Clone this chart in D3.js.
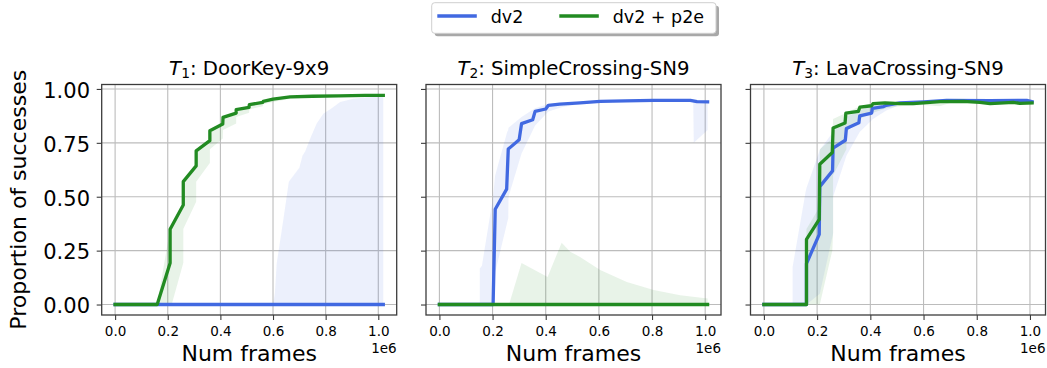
<!DOCTYPE html>
<html><head><meta charset="utf-8">
<script src="https://cdn.jsdelivr.net/npm/d3@7"></script>
<style>
body{margin:0;background:#fff}
svg{display:block}
text{font-family:"DejaVu Sans",sans-serif;fill:#000}
</style>
</head><body><svg id="c" width="1047" height="368"></svg>
<script>
// ---------- data ----------
const seriesNames = ["dv2", "dv2 + p2e"];
const seriesColors = ["#4169e1", "#228b22"];
const panelTitles = ["DoorKey-9x9", "SimpleCrossing-SN9", "LavaCrossing-SN9"];
const panelSubs = ["1", "2", "3"];
const yTicks = [0, 0.25, 0.5, 0.75, 1.0];
const yTickLabels = ["0.00", "0.25", "0.50", "0.75", "1.00"];
const xTicks = [0, 200000, 400000, 600000, 800000, 1000000];
const xTickLabels = ["0.0", "0.2", "0.4", "0.6", "0.8", "1.0"];

// Panel 1: DoorKey-9x9
const dkDv2X = [0, 1019000];
const dkDv2Y = [0, 0];
const dkDv2BandX = [600000, 607000, 614000, 640000, 660000, 700000, 712000, 722000, 745000, 766000, 791000, 823000, 855000, 905000, 960000, 1019000];
const dkDv2Lo = [0, 0, 0, 0, 0, 0, 0, 0, 0, 0, 0, 0, 0, 0, 0, 0];
const dkDv2Hi = [0, 0.05, 0.19, 0.40, 0.57, 0.635, 0.69, 0.71, 0.78, 0.84, 0.885, 0.91, 0.94, 0.955, 0.962, 0.965];
const dkP2eX = [0, 160000, 209000, 209000, 259000, 259000, 308000, 308000, 360000, 360000, 409000, 410000, 460000, 460000, 509000, 510000, 561000, 563000, 600000, 665000, 750000, 850000, 950000, 1019000];
const dkP2eY = [0, 0, 0.193, 0.349, 0.462, 0.570, 0.643, 0.713, 0.76, 0.806, 0.837, 0.868, 0.888, 0.904, 0.915, 0.927, 0.938, 0.942, 0.953, 0.963, 0.966, 0.968, 0.970, 0.970];
const dkP2eBandX = [160000, 209000, 215000, 259000, 259000, 308000, 308000, 360000, 360000, 409000, 410000, 460000, 460000, 509000, 510000, 561000, 563000, 600000, 665000, 750000, 850000, 1019000];
const dkP2eHi = [0, 0.35, 0.36, 0.47, 0.575, 0.65, 0.72, 0.765, 0.81, 0.84, 0.87, 0.89, 0.905, 0.917, 0.928, 0.94, 0.944, 0.955, 0.965, 0.968, 0.970, 0.972];
const dkP2eLo = [0, 0, 0, 0.193, 0.35, 0.477, 0.57, 0.656, 0.72, 0.77, 0.81, 0.84, 0.87, 0.89, 0.905, 0.92, 0.93, 0.94, 0.955, 0.962, 0.966, 0.968];

// Panel 2: SimpleCrossing-SN9
const scDv2X = [0, 202000, 210000, 253000, 259000, 300000, 309000, 351000, 360000, 400000, 410000, 453000, 529000, 605000, 700000, 806000, 944000, 969000, 1009000];
const scDv2Y = [0, 0, 0.442, 0.535, 0.721, 0.764, 0.839, 0.857, 0.896, 0.907, 0.924, 0.930, 0.935, 0.942, 0.945, 0.947, 0.947, 0.941, 0.940];
const scDv2BandX = [152000, 152000, 160000, 202000, 209000, 210000, 255000, 259000, 260000, 309000, 360000, 410000, 460000, 529000, 605000, 806000, 944000, 955000, 957000, 1009000];
const scDv2Hi = [0, 0.167, 0.18, 0.5, 0.593, 0.6, 0.80, 0.81, 0.82, 0.87, 0.91, 0.93, 0.935, 0.94, 0.945, 0.95, 0.95, 0.95, 0.95, 0.945];
const scDv2Lo = [0, 0, 0, 0, 0, 0.15, 0.38, 0.40, 0.50, 0.70, 0.83, 0.895, 0.915, 0.93, 0.938, 0.944, 0.944, 0.944, 0.75, 0.81];
const scP2eX = [0, 1009000];
const scP2eY = [0, 0];
const scP2eBandX = [262000, 309000, 407000, 460000, 492000, 529000, 605000, 705000, 806000, 906000, 1009000];
const scP2eHi = [0, 0.193, 0.128, 0.287, 0.245, 0.221, 0.160, 0.105, 0.067, 0.043, 0.028];
const scP2eLo = [0, 0, 0, 0, 0, 0, 0, 0, 0, 0, 0];

// Panel 3: LavaCrossing-SN9
const lcDv2X = [0, 160000, 160000, 208000, 210000, 258000, 260000, 306000, 310000, 357000, 360000, 405000, 408000, 450000, 460000, 511000, 600000, 687000, 850000, 988000, 1008000];
const lcDv2Y = [0, 0, 0.19, 0.325, 0.547, 0.62, 0.725, 0.762, 0.817, 0.843, 0.875, 0.888, 0.91, 0.918, 0.924, 0.935, 0.94, 0.947, 0.946, 0.947, 0.941];
const lcDv2BandX = [108000, 108000, 157000, 160000, 210000, 260000, 260000, 310000, 360000, 410000, 460000, 510000, 600000, 700000, 1008000];
const lcDv2Hi = [0, 0.175, 0.524, 0.54, 0.717, 0.80, 0.80, 0.87, 0.90, 0.925, 0.935, 0.94, 0.945, 0.95, 0.95];
const lcDv2Lo = [0, 0, 0, 0, 0.05, 0.33, 0.50, 0.69, 0.80, 0.86, 0.90, 0.925, 0.935, 0.94, 0.94];
const lcP2eX = [0, 160000, 160000, 208000, 210000, 257000, 260000, 305000, 308000, 355000, 361000, 405000, 410000, 455000, 511000, 561000, 662000, 750000, 812000, 850000, 937000, 962000, 1008000];
const lcP2eY = [0, 0, 0.302, 0.395, 0.651, 0.705, 0.819, 0.842, 0.888, 0.896, 0.916, 0.922, 0.932, 0.935, 0.932, 0.932, 0.941, 0.942, 0.938, 0.932, 0.938, 0.933, 0.935];
const lcP2eBandX = [160000, 160000, 208000, 210000, 257000, 260000, 260000, 310000, 310000, 360000, 410000, 460000, 510000, 600000, 660000, 700000, 1008000];
const lcP2eHi = [0, 0.35, 0.45, 0.72, 0.77, 0.86, 0.86, 0.89, 0.89, 0.92, 0.935, 0.94, 0.942, 0.945, 0.945, 0.945, 0.945];
const lcP2eLo = [0, 0, 0, 0, 0.25, 0.33, 0.60, 0.72, 0.80, 0.86, 0.89, 0.91, 0.92, 0.925, 0.92, 0.935, 0.93];

// ---------- assemble ----------
const panelData = [
  [[dkDv2X, dkDv2Y, dkDv2BandX, dkDv2Lo, dkDv2Hi], [dkP2eX, dkP2eY, dkP2eBandX, dkP2eLo, dkP2eHi]],
  [[scDv2X, scDv2Y, scDv2BandX, scDv2Lo, scDv2Hi], [scP2eX, scP2eY, scP2eBandX, scP2eLo, scP2eHi]],
  [[lcDv2X, lcDv2Y, lcDv2BandX, lcDv2Lo, lcDv2Hi], [lcP2eX, lcP2eY, lcP2eBandX, lcP2eLo, lcP2eHi]]
];

// ---------- layout ----------
const panelLefts = [101.7, 426, 750.5];
const panelW = 295, axTop = 84.5, axBottom = 315;
const spineColor = "#3c3c3c";
const gridColor = "#bcbcbc";

const svg = d3.select("#c");

// shared y domain with 5% margins (matplotlib-style)
let yMax = 0, yMin = 0;
panelData.forEach(p => p.forEach(s => {
  yMax = Math.max(yMax, d3.max(s[1]), d3.max(s[4]));
  yMin = Math.min(yMin, d3.min(s[1]), d3.min(s[3]));
}));
const yPad = (yMax - yMin) * 0.05;
const y = d3.scaleLinear().domain([yMin - yPad, yMax + yPad]).range([axBottom, axTop]);

panelData.forEach((pdata, pi) => {
  const left = panelLefts[pi], right = left + panelW;
  const xMax = d3.max(pdata, s => Math.max(d3.max(s[0]), d3.max(s[2])));
  const x = d3.scaleLinear().domain([-0.05 * xMax, 1.05 * xMax]).range([left, right]);
  const g = svg.append("g");

  // grid
  g.selectAll(".gx").data(xTicks).enter().append("line")
    .attr("x1", d => x(d)).attr("x2", d => x(d)).attr("y1", axTop).attr("y2", axBottom)
    .attr("stroke", gridColor).attr("stroke-width", 1.1);
  g.selectAll(".gy").data(yTicks).enter().append("line")
    .attr("x1", left).attr("x2", right).attr("y1", d => y(d)).attr("y2", d => y(d))
    .attr("stroke", gridColor).attr("stroke-width", 1.1);

  // bands and lines
  pdata.forEach((s, si) => {
    const band = s[2].map((bx, i) => ({x: bx, lo: s[3][i], hi: s[4][i]}));
    g.append("path").datum(band)
      .attr("d", d3.area().x(d => x(d.x)).y0(d => y(d.lo)).y1(d => y(d.hi)))
      .attr("fill", seriesColors[si]).attr("fill-opacity", 0.1).attr("stroke", "none");
  });
  pdata.forEach((s, si) => {
    const pts = s[0].map((mx, i) => ({x: mx, y: s[1][i]}));
    g.append("path").datum(pts)
      .attr("d", d3.line().x(d => x(d.x)).y(d => y(d.y)))
      .attr("fill", "none").attr("stroke", seriesColors[si]).attr("stroke-width", 3.3)
      .attr("stroke-linejoin", "round").attr("stroke-linecap", "square");
  });

  // spines
  g.append("rect").attr("x", left).attr("y", axTop).attr("width", panelW).attr("height", axBottom - axTop)
    .attr("fill", "none").attr("stroke", spineColor).attr("stroke-width", 1.3);

  // x axis
  const xAxis = d3.axisBottom(x).tickValues(xTicks).tickFormat((d, i) => xTickLabels[i]).tickSize(5).tickPadding(3);
  const gx = g.append("g").attr("transform", `translate(0,${axBottom})`).call(xAxis);
  gx.select(".domain").remove();
  gx.selectAll(".tick line").attr("stroke", spineColor).attr("stroke-width", 1.1);
  gx.selectAll(".tick text").attr("font-family", "DejaVu Sans").attr("font-size", 13.5).attr("fill", "#000")
    .attr("dy", null).attr("y", 20.8);

  // y axis
  const yAxis = d3.axisLeft(y).tickValues(yTicks).tickFormat((d, i) => pi === 0 ? yTickLabels[i] : "").tickSize(5).tickPadding(6);
  const gy = g.append("g").attr("transform", `translate(${left},0)`).call(yAxis);
  gy.select(".domain").remove();
  gy.selectAll(".tick line").attr("stroke", spineColor).attr("stroke-width", 1.1);
  gy.selectAll(".tick text").attr("font-family", "DejaVu Sans").attr("font-size", 21).attr("fill", "#000")
    .attr("dy", null).attr("y", 8.3).attr("x", -11.7);

  // x label
  g.append("text").attr("x", (left + right) / 2).attr("y", 361.3).attr("text-anchor", "middle")
    .attr("font-size", 22).text("Num frames");
  // offset text
  g.append("text").attr("x", right).attr("y", 353).attr("text-anchor", "end")
    .attr("font-size", 13.5).text("1e6");

  // title
  const t = g.append("text").attr("x", (left + right) / 2).attr("y", 75).attr("text-anchor", "middle")
    .attr("font-size", 19.7);
  t.append("tspan").attr("font-style", "italic").text("T");
  t.append("tspan").attr("font-size", 13.8).attr("dy", 3).text(panelSubs[pi]);
  t.append("tspan").attr("dy", -3).text(": " + panelTitles[pi]);
});

// y label
svg.append("text").attr("transform", `translate(25.5,${(axTop + axBottom) / 2}) rotate(-90)`)
  .attr("text-anchor", "middle").attr("font-size", 22).text("Proportion of successes");

// legend
const lg = svg.append("g");
const lx = 431.7, ly = 2.7, lw = 284.3, lh = 30.6;
lg.append("rect").attr("x", lx + 3).attr("y", ly + 3).attr("width", lw).attr("height", lh).attr("rx", 3)
  .attr("fill", "#a8a8a8");
lg.append("rect").attr("x", lx).attr("y", ly).attr("width", lw).attr("height", lh).attr("rx", 3)
  .attr("fill", "#fff").attr("stroke", "#cfcfcf").attr("stroke-width", 1);
const legendX = [437.3, 559.3];
seriesNames.forEach((name, i) => {
  lg.append("line").attr("x1", legendX[i]).attr("x2", legendX[i] + 39.5).attr("y1", 16).attr("y2", 16)
    .attr("stroke", seriesColors[i]).attr("stroke-width", 3.3);
  lg.append("text").attr("x", legendX[i] + 53.4).attr("y", 23).attr("font-size", 17.5).text(name);
});
</script></body></html>
